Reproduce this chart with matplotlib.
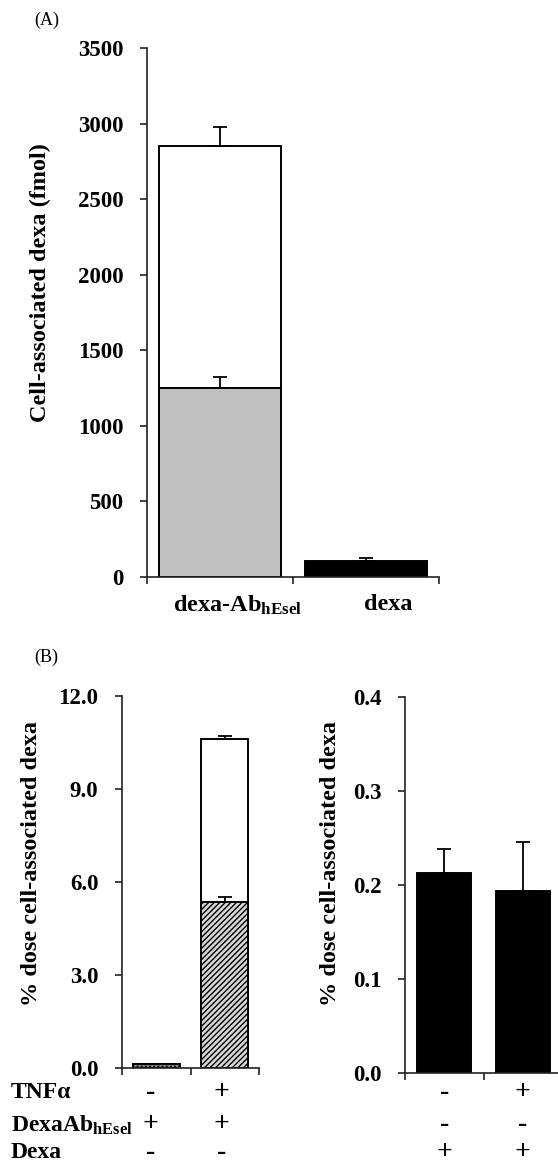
import matplotlib
matplotlib.use("Agg")
import matplotlib.pyplot as plt
import matplotlib.transforms as mtransforms

plt.rcParams['font.family'] = ['Liberation Serif', 'DejaVu Serif']
plt.rcParams['font.weight'] = 'bold'
plt.rcParams['mathtext.fontset'] = 'custom'
plt.rcParams['mathtext.rm'] = 'Liberation Serif:bold'
plt.rcParams['mathtext.bf'] = 'Liberation Serif:bold'
plt.rcParams['mathtext.it'] = 'Liberation Serif:bold'
plt.rcParams['hatch.linewidth'] = 1.0

# ---------------- data ----------------
# Panel A
a_categories = [r'dexa-Ab$_{\rm hEsel}$', 'dexa']
a_total = [2850, 106]          # white (total) bar for dexa-Ab, black bar for dexa
a_total_err = [125, 20]
a_inhibited = [1250]           # grey bar (dexa-Ab only)
a_inhibited_err = [73]
a_yticks = [0, 500, 1000, 1500, 2000, 2500, 3000, 3500]

# Panel B left
bl_total = [0.12, 10.6]
bl_total_err = [0.0, 0.12]
bl_hatched = [0.0, 5.35]
bl_hatched_err = [0.0, 0.17]
bl_yticks = [0.0, 3.0, 6.0, 9.0, 12.0]

# Panel B right
br_values = [0.213, 0.194]
br_err = [0.025, 0.052]
br_yticks = [0.0, 0.1, 0.2, 0.3, 0.4]

row_names = ['TNF\u03b1', r'DexaAb$_{\rm hEsel}$', 'Dexa']
left_signs = [['-', '+'], ['+', '+'], ['-', '-']]
right_signs = [['-', '+'], ['-', '-'], ['+', '+']]

W, H = 558, 1164
fig = plt.figure(figsize=(W / 100, H / 100), dpi=100)

def px_axes(left, right, top, bottom):
    return fig.add_axes([left / W, 1 - bottom / H, (right - left) / W, (bottom - top) / H])

def style(ax, ylim, yticks, fmt):
    ax.set_xlim(0, 2)
    ax.set_ylim(*ylim)
    ax.spines['top'].set_visible(False)
    ax.spines['right'].set_visible(False)
    for s in ['left', 'bottom']:
        ax.spines[s].set_linewidth(1.2)
        ax.spines[s].set_color('#222222')
    ax.set_xticks([0, 1, 2])
    ax.set_xticklabels([])
    ax.set_yticks(yticks)
    ax.set_yticklabels([fmt.format(v) for v in yticks])
    ax.tick_params(axis='both', direction='out', length=5, width=1.2, color='#222222')
    ax.tick_params(axis='y', labelsize=16.5, pad=12)

bar_kw = dict(edgecolor='black', linewidth=1.4, zorder=2)
err_kw = dict(fmt='none', ecolor='black', elinewidth=1.3, capsize=5, capthick=1.3, zorder=3)

# ---------------- Panel A ----------------
axA = px_axes(147, 439, 48, 577)
style(axA, (0, 3500), a_yticks, '{:.0f}')
xA = [0.5, 1.5]
axA.bar(xA[0], a_total[0], width=0.84, color='white', **bar_kw)
axA.errorbar(xA[0], a_total[0], yerr=[[0], [a_total_err[0]]], **err_kw)
axA.bar(xA[0], a_inhibited[0], width=0.84, color='#c0c0c0', **bar_kw)
axA.errorbar(xA[0], a_inhibited[0], yerr=[[0], [a_inhibited_err[0]]], **err_kw)
axA.bar(xA[1], a_total[1], width=0.84, color='black', **bar_kw)
axA.errorbar(xA[1], a_total[1], yerr=[[0], [a_total_err[1]]], **err_kw)
transA = mtransforms.blended_transform_factory(axA.transData, fig.transFigure)
label_x = [0.62, 1.65]
for lx, lab in zip(label_x, a_categories):
    axA.text(lx, 1 - 605 / H, lab, transform=transA, ha='center', va='center', fontsize=17.5)
fig.text(40 / W, 1 - 283 / H, 'Cell-associated dexa (fmol)', rotation=90,
         ha='center', va='center', fontsize=17.5)
fig.text(34 / W, 1 - 20 / H, '(A)', fontsize=13, fontweight='normal', ha='left', va='center')

# ---------------- Panel B left ----------------
axL = px_axes(122, 259, 696, 1068)
style(axL, (0, 12), bl_yticks, '{:.1f}')
xB = [0.5, 1.5]
axL.bar(xB[0], bl_total[0], width=0.69, color='#888888', hatch='....', **bar_kw)
axL.bar(xB[1], bl_total[1], width=0.69, color='white', **bar_kw)
axL.errorbar(xB[1], bl_total[1], yerr=[[0], [bl_total_err[1]]], **err_kw)
axL.bar(xB[1], bl_hatched[1], width=0.69, color='#d8d8d8', hatch='//////', **bar_kw)
axL.errorbar(xB[1], bl_hatched[1], yerr=[[0], [bl_hatched_err[1]]], **err_kw)
fig.text(32 / W, 1 - 863 / H, '% dose cell-associated dexa', rotation=90,
         ha='center', va='center', fontsize=17.5)
fig.text(34 / W, 1 - 657 / H, '(B)', fontsize=13, fontweight='normal', ha='left', va='center')

# ---------------- Panel B right ----------------
axR = px_axes(405, 562, 697, 1073)
style(axR, (0, 0.4), br_yticks, '{:.1f}')
axR.bar(xB, br_values, width=0.69, color='black', **bar_kw)
axR.errorbar(xB, br_values, yerr=[[0, 0], br_err], **err_kw)
fig.text(331 / W, 1 - 863 / H, '% dose cell-associated dexa', rotation=90,
         ha='center', va='center', fontsize=17.5)

# ---------------- treatment table ----------------
row_y = [1093, 1125, 1153]
transL = mtransforms.blended_transform_factory(axL.transData, fig.transFigure)
transR = mtransforms.blended_transform_factory(axR.transData, fig.transFigure)
left_x = [0.42, 1.45]
right_x = [0.5, 1.5]
for name, ry, ls, rs in zip(row_names, row_y, left_signs, right_signs):
    fig.text(11 / W, 1 - ry / H, name, ha='left', va='center', fontsize=17)
    for x, s in zip(left_x, ls):
        axL.text(x, 1 - ry / H, s, transform=transL, ha='center', va='center', fontsize=20)
    for x, s in zip(right_x, rs):
        axR.text(x, 1 - ry / H, s, transform=transR, ha='center', va='center', fontsize=20)

fig.savefig('out.png', dpi=100)
